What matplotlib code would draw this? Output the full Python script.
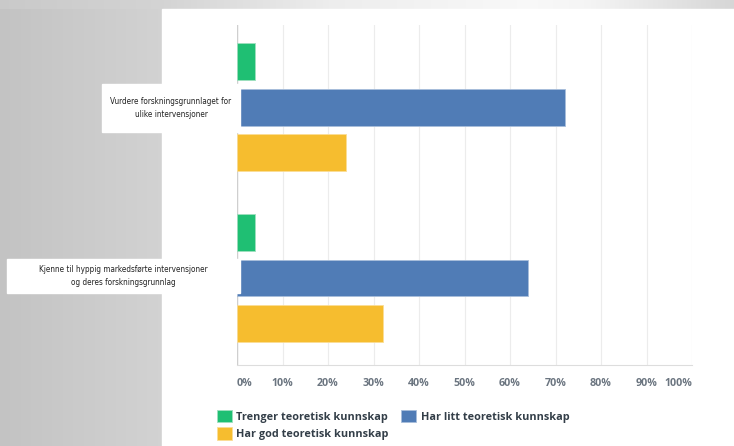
import numpy as np
import matplotlib.pyplot as plt
from matplotlib.patches import Rectangle

categories = ['Vurdere forskningsgrunnlaget for\nulike intervensjoner',
              'Kjenne til hyppig markedsførte intervensjoner\nog deres forskningsgrunnlag']
series = ['Trenger teoretisk kunnskap', 'Har litt teoretisk kunnskap', 'Har god teoretisk kunnskap']
trenger = [4, 4]
litt = [72, 64]
god = [24, 32]
colors = ['#1fbf73', '#507cb6', '#f6bd2f']
ticks = [0, 10, 20, 30, 40, 50, 60, 70, 80, 90, 100]
tick_labels = [f'{t}%' for t in ticks]

W, H = 734, 446
fig = plt.figure(figsize=(W / 100, H / 100), dpi=100)

# grey screenshot background
bg = fig.add_axes([0, 0, 1, 1], zorder=-10)
xs = np.linspace(0, 1, W)
img = np.ones((H, W))
left = 0.765 + 0.06 * np.clip(xs / 0.22, 0, 1)
img[:, :] = left[None, :]
top = np.interp(xs, [0, 0.22, 0.45, 0.72, 0.8, 1.0], [0.79, 0.83, 0.93, 0.975, 0.96, 0.84])
img[:9, :] = top[None, :]
bg.imshow(np.dstack([img] * 3), aspect='auto', extent=[0, 1, 0, 1])
bg.set_xlim(0, 1)
bg.set_ylim(0, 1)
bg.add_patch(Rectangle((162 / W, 0), 1, 1 - 9 / H, color='white'))
bg.axis('off')

ax = fig.add_axes([237 / W, 81 / H, 455 / W, 340 / H])
ax.set_facecolor('none')
groups = np.array([0, 3.75])
h = 0.81
ax.barh(groups - 1, trenger, height=h, color=colors[0], edgecolor='#9fe0bf', linewidth=0.6, label=series[0], zorder=3)
ax.barh(groups, litt, height=h, color=colors[1], edgecolor='#a8bedb', linewidth=0.6, label=series[1], zorder=3)
ax.barh(groups + 1, god, height=h, color=colors[2], edgecolor='#fadd97', linewidth=0.6, label=series[2], zorder=3)
ax.set_ylim(5.66, -1.81)
ax.set_xlim(0, 100)
ax.set_xticks(ticks)
ax.set_xticklabels(tick_labels, fontsize=7.7, color='#6b7580', fontweight='bold', family='Open Sans')
tl = ax.get_xticklabels()
tl[0].set_ha('left')
tl[-1].set_ha('right')
ax.tick_params(axis='x', length=0, pad=9)
ax.set_yticks([])
ax.grid(axis='x', color='#ececec', linewidth=0.8, zorder=0)
for s in ['top', 'right', 'left']:
    ax.spines[s].set_visible(False)
ax.spines['bottom'].set_color('#dddddd')
ax.axvline(0, color='#cfcfcf', linewidth=1, zorder=2)

# category label boxes pasted over the chart
boxes = [(102, 84, 240, 132), (7, 259, 240, 293)]
for (x0, y0, x1, y1), cat in zip(boxes, categories):
    fig.patches.append(Rectangle((x0 / W, 1 - y1 / H), (x1 - x0) / W, (y1 - y0) / H,
                                 transform=fig.transFigure, color='white', zorder=20))
    fig.text((x0 + x1) / 2 / W, 1 - (y0 + y1) / 2 / H, cat, ha='center', va='center',
             fontsize=5.9, color='#222222', linespacing=1.6, zorder=21,
             family=['Liberation Sans Narrow', 'DejaVu Sans'], fontstretch='condensed')

handles, labels = ax.get_legend_handles_labels()
order = [0, 2, 1]
leg = fig.legend([handles[i] for i in order], [labels[i] for i in order], ncol=2,
                 loc='upper left', bbox_to_anchor=(217 / W, 1 - 410 / H), frameon=False,
                 handlelength=1.39, handleheight=1.39, handletextpad=0.37, columnspacing=1.2,
                 labelspacing=0.4, borderaxespad=0, borderpad=0,
                 prop={'family': 'Open Sans', 'weight': 'bold', 'size': 7.8})
for t in leg.get_texts():
    t.set_color('#333e48')

fig.savefig('out.png', dpi=100)
